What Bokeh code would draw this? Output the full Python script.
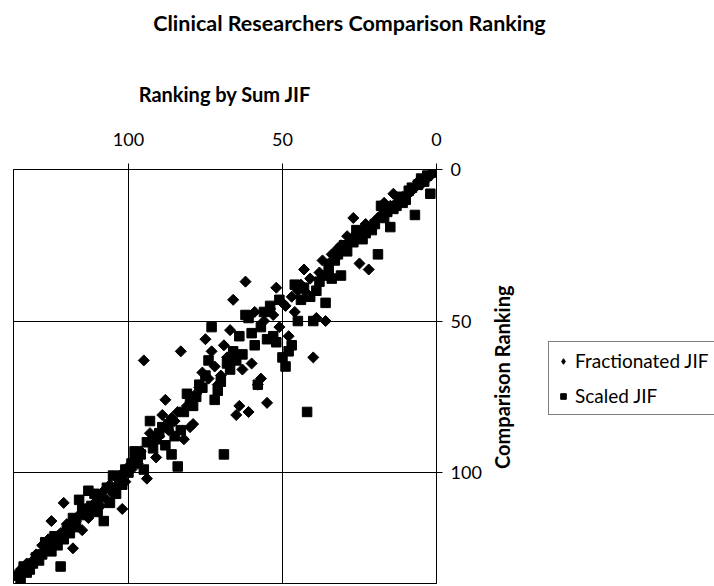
import math
from bokeh.plotting import figure
from bokeh.layouts import row, column
from bokeh.models import (Range1d, LinearAxis, FixedTicker, Legend, LegendItem, ColumnDataSource, Label)
from bokeh.embed import file_html
from bokeh.resources import INLINE

# ---- data ----
sum_jif_rank = [1, 2, 3, 4, 5, 6, 7, 8, 9, 10, 11, 12, 13, 14, 15, 16, 17, 18, 19, 20,
                21, 22, 23, 24, 25, 26, 27, 28, 29, 30, 31, 32, 33, 34, 35, 36, 37, 38, 39, 40,
                41, 42, 43, 44, 45, 46, 47, 48, 49, 50, 51, 52, 53, 54, 55, 56, 57, 58, 59, 60,
                61, 62, 63, 64, 65, 66, 67, 68, 69, 70, 71, 72, 73, 74, 75, 76, 77, 78, 79, 80,
                81, 82, 83, 84, 85, 86, 87, 88, 89, 90, 91, 92, 93, 94, 95, 96, 97, 98, 99, 100,
                101, 102, 103, 104, 105, 106, 107, 108, 109, 110, 111, 112, 113, 114, 115, 116, 117, 118, 119, 120,
                121, 122, 123, 124, 125, 126, 127, 128, 129, 130, 131, 132, 133, 134, 135, 136]

fractionated_rank = [1, 2, 3, 3, 5, 4, 6, 7, 8, 9, 9, 10, 11, 8, 12, 13, 11, 15, 16, 17,
                     19, 33, 18, 20, 31, 21, 16, 24, 22, 26, 25, 26, 29, 28, 31, 50, 30, 34, 49, 62,
                     36, 41, 33, 38, 40, 47, 42, 55, 45, 44, 52, 39, 48, 46, 77, 50, 69, 71, 47, 64,
                     80, 37, 66, 78, 81, 43, 53, 62, 58, 68, 71, 65, 60, 69, 56, 67, 72, 74, 84, 85,
                     78, 89, 60, 80, 83, 82, 86, 76, 81, 88, 95, 90, 87, 102, 63, 93, 97, 95, 99, 98,
                     103, 112, 101, 105, 107, 104, 109, 106, 111, 108, 110, 113, 115, 112, 119, 114, 116, 125, 118, 117,
                     110, 120, 121, 123, 116, 122, 126, 124, 128, 127, 129, 131, 130, 133, 132, 134]

scaled_rank = [1, 8, 2, 4, 3, 5, 15, 6, 7, 10, 11, 9, 12, 13, 19, 14, 16, 12, 28, 18,
               20, 19, 21, 23, 22, 20, 24, 23, 27, 25, 35, 28, 30, 36, 33, 44, 35, 37, 40, 50,
               42, 80, 39, 43, 50, 38, 58, 60, 65, 62, 43, 57, 55, 45, 56, 47, 52, 71, 58, 54,
               49, 48, 61, 55, 63, 60, 66, 64, 94, 70, 73, 76, 52, 63, 68, 72, 71, 75, 78, 77,
               74, 80, 86, 98, 88, 94, 84, 91, 85, 87, 89, 92, 83, 90, 99, 94, 96, 93, 97, 100,
               99, 104, 102, 107, 101, 110, 105, 116, 108, 113, 107, 111, 106, 114, 112, 109, 118, 115, 120, 119,
               122, 131, 124, 121, 126, 125, 123, 127, 129, 128, 130, 132, 133, 131, 135, 134]

tick_values = [0, 50, 100]
title_text = "Clinical Researchers Comparison Ranking"
x_title = "Ranking by Sum JIF"
y_title = "Comparison Ranking"
series_names = ["Fractionated JIF", "Scaled JIF"]

FONT = "Lato"
TOTAL_W, TOTAL_H = 714, 586
TITLE_H = 40
MAIN_W = 490
SIDE_W = TOTAL_W - MAIN_W
BODY_H = TOTAL_H - TITLE_H

# ---- title strip ----
tf = figure(width=TOTAL_W, height=TITLE_H, output_backend="svg", toolbar_location=None,
            x_range=Range1d(0, TOTAL_W), y_range=Range1d(0, TITLE_H),
            x_axis_location=None, y_axis_location=None,
            min_border_left=0, min_border_right=0, min_border_top=0, min_border_bottom=0)
tf.outline_line_color = None
tf.xgrid.visible = False
tf.ygrid.visible = False
tf.add_layout(Label(x=349, y=TITLE_H - 22, text=title_text, text_align="center",
                    text_baseline="middle", text_font=FONT, text_font_style="bold",
                    text_font_size="21.5px", text_color="black"))

# ---- main plot ----
p = figure(width=MAIN_W, height=BODY_H, output_backend="svg", toolbar_location=None,
           x_range=Range1d(137.3, 0), y_range=Range1d(136.6, 0),
           x_axis_location=None, y_axis_location=None,
           min_border_left=13, min_border_right=MAIN_W - 436,
           min_border_top=169 - TITLE_H, min_border_bottom=3)

p.background_fill_color = "white"
p.border_fill_color = "white"
p.outline_line_color = "black"
p.outline_line_width = 1

top_axis = LinearAxis(ticker=FixedTicker(ticks=tick_values), axis_label=x_title)
right_axis = LinearAxis(ticker=FixedTicker(ticks=tick_values))
for ax in (top_axis, right_axis):
    ax.major_tick_out = 6
    ax.major_tick_in = 0
    ax.minor_tick_line_color = None
    ax.axis_line_color = "black"
    ax.major_tick_line_color = "black"
    ax.major_label_text_font = FONT
    ax.major_label_text_font_size = "18px"
    ax.major_label_text_color = "black"
    ax.axis_label_text_font = FONT
    ax.axis_label_text_font_style = "bold"
    ax.axis_label_text_font_size = "20px"
    ax.axis_label_text_color = "black"
top_axis.major_label_standoff = 18
top_axis.axis_label_standoff = 24
right_axis.major_label_standoff = 8
p.add_layout(top_axis, "above")
p.add_layout(right_axis, "right")

p.xgrid.ticker = FixedTicker(ticks=tick_values)
p.ygrid.ticker = FixedTicker(ticks=tick_values)
for g in (p.xgrid, p.ygrid):
    g.grid_line_color = "black"
    g.grid_line_width = 1
    g.grid_line_alpha = 1.0

src = ColumnDataSource(dict(x=sum_jif_rank, f=fractionated_rank, s=scaled_rank))
r_f = p.scatter("x", "f", source=src, marker="square", size=7.8, angle=math.pi / 4,
                fill_color="black", line_color="black")
r_s = p.scatter("x", "s", source=src, marker="square", size=9.5,
                fill_color="black", line_color="black")

# ---- side panel: y-axis title and legend ----
lf = figure(width=SIDE_W, height=BODY_H, output_backend="svg",
            toolbar_location=None, x_range=Range1d(0, SIDE_W), y_range=Range1d(0, BODY_H),
            x_axis_location=None, y_axis_location=None,
            min_border_left=0, min_border_right=0, min_border_top=0, min_border_bottom=0)
lf.outline_line_color = None
lf.xgrid.visible = False
lf.ygrid.visible = False
lf.background_fill_color = "white"
lf.border_fill_color = "white"

lf.add_layout(Label(x=501 - MAIN_W, y=272, text=y_title, angle=math.pi / 2,
                    text_align="center", text_baseline="middle", text_font=FONT,
                    text_font_style="bold", text_font_size="20px", text_color="black"))

offscreen = ColumnDataSource(dict(x=[-100], y=[-100]))
lr_f = lf.scatter("x", "y", source=offscreen, marker="diamond", size=10,
                  fill_color="black", line_color="black")
lr_s = lf.scatter("x", "y", source=offscreen, marker="square", size=9.5,
                  fill_color="black", line_color="black")

legend = Legend(items=[LegendItem(label=series_names[0], renderers=[lr_f]),
                       LegendItem(label=series_names[1], renderers=[lr_s])],
                location=(548 - MAIN_W, 168))
legend.label_text_font = FONT
legend.label_text_font_size = "19px"
legend.label_text_color = "black"
legend.border_line_color = "black"
legend.border_line_width = 1
legend.background_fill_color = "white"
legend.background_fill_alpha = 1.0
legend.padding = 7
legend.spacing = 12
legend.margin = 0
legend.glyph_width = 14
legend.glyph_height = 20
legend.label_height = 20
legend.label_standoff = 5
lf.add_layout(legend, "center")

layout = column(tf, row(p, lf, spacing=0), spacing=0)
open("out.html", "w").write(file_html(layout, INLINE))
